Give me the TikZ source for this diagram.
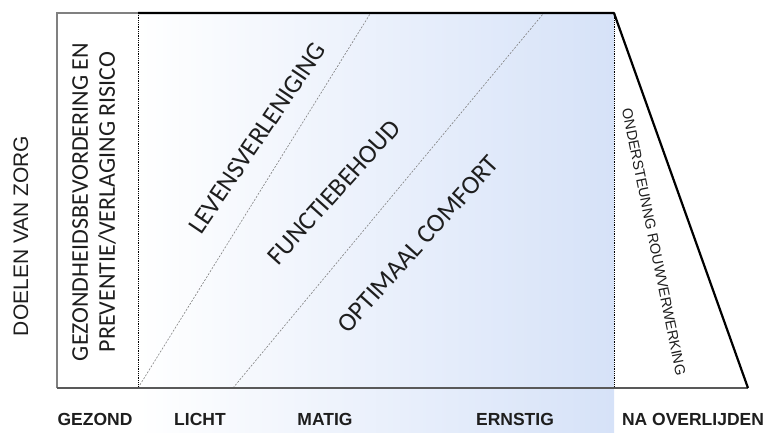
\documentclass[tikz,border=0pt]{standalone}
\usepackage{fontspec}
\setmainfont{Carlito}
\newfontfamily\arialfont{Liberation Sans}
\usetikzlibrary{calc}
\definecolor{zorgblauw}{RGB}{214,226,248}
\definecolor{tekstgrijs}{RGB}{30,30,30}
\tikzset{
  fase/.style={font=\arialfont\bfseries\fontsize{17.5}{20}\selectfont, text=tekstgrijs, inner sep=0pt},
  doel/.style={font=\fontsize{26}{28}\selectfont, text=tekstgrijs, inner sep=0pt},
  grens/.style={densely dotted, line width=0.8pt},
  overgang/.style={dash pattern=on 2pt off 1.5pt, gray, line width=0.6pt}
}
\begin{document}
\begin{tikzpicture}[x=1pt,y=-1pt]
\useasboundingbox (0,0) rectangle (769,432);
\coordinate[] (LT) at (57,13);
\coordinate[] (LB) at (57,388);
\coordinate[] (GT) at (138,13);
\coordinate[] (GB) at (138,388);
\coordinate[] (OT) at (614,13);
\coordinate[] (OB) at (614,388);
\coordinate[] (RB) at (748,388);
\coordinate[] (P1) at (370,14);
\coordinate[] (Q1) at (233,388);
\coordinate[] (P2) at (543,14);
\coordinate[] (ZB) at (614,432);
\shade[left color=white,right color=zorgblauw] (GT) rectangle (ZB);
\draw [overgang] (GB) -- (P1);
\draw [overgang] (Q1) -- (P2);
\draw [grens] (GT) -- (GB);
\draw [grens] (OT) -- (OB);
\draw [gray, line width=1.4pt] (LB) -- (LT) -- (GT);
\draw [gray!70!black, line width=1.6pt] (LB) -- (RB);
\draw [line width=2.2pt, line join=round] (GT) -- (OT) -- (RB);
\node[rotate=90, font=\arialfont\fontsize{21}{24}\selectfont, text=tekstgrijs, inner sep=0pt] (doelen) at (21,236) {DOELEN VAN ZORG};
\node[rotate=90, align=center, font=\fontsize{24}{27}\selectfont, text=tekstgrijs, inner sep=0pt] (preventie) at (94,202) {GEZONDHEIDSBEVORDERING EN\\PREVENTIE/VERLAGING RISICO};
\node[doel, rotate=56] (leven) at (257,138) {LEVENSVERLENIGING};
\node[doel, rotate=48] (functie) at (334,192) {FUNCTIEBEHOUD};
\node[doel, rotate=48] (comfort) at (418,244) {OPTIMAAL COMFORT};
\node[rotate=-78.5, font=\arialfont\fontsize{14.5}{16}\selectfont, text=tekstgrijs, inner sep=0pt] (rouw) at (654,242) {ONDERSTEUNNG ROUWVERWERKING};
\foreach \x/\naam/\tekst in {95/gezond/GEZOND, 200/licht/LICHT, 325/matig/MATIG, 515/ernstig/ERNSTIG, 693/overlijden/NA OVERLIJDEN}
	\node[fase] (\naam) at (\x,419) {\tekst};
\end{tikzpicture}
\end{document}
